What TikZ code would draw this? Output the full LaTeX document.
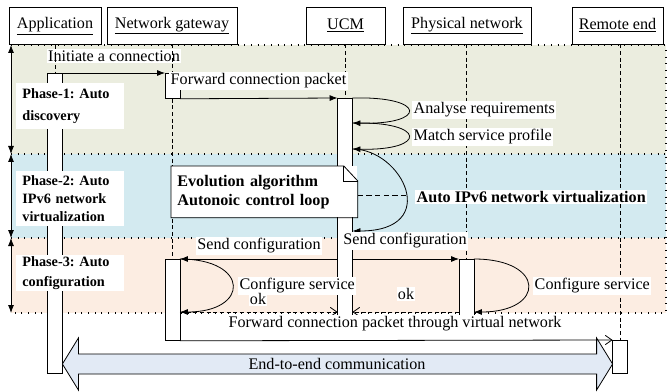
\documentclass[tikz,border=0pt]{standalone}
\usepackage{fontspec}
\setmainfont{Liberation Serif}
\usetikzlibrary{arrows.meta}
\definecolor{phA}{HTML}{EBEDDF}
\definecolor{phB}{HTML}{D3EAF0}
\definecolor{phC}{HTML}{FCEDE2}
\definecolor{bigarr}{HTML}{E2EAF5}
\frenchspacing
\begin{document}
\begin{tikzpicture}[x=0.75pt,y=-0.75pt, line width=0.6pt,
  font=\fontsize{12.1}{14}\selectfont,
  hdr/.style={draw, fill=white, minimum height=27.75pt, inner sep=0pt},
  bar/.style={draw, fill=white, minimum width=10.5pt, inner sep=0pt, anchor=north},
  life/.style={dash pattern=on 3pt off 2pt, line width=0.5pt},
  phaseline/.style={dash pattern=on 0.8pt off 4.2pt, line width=0.9pt},
  msg/.style={-{Latex[length=6pt,width=4.5pt]}},
  ret/.style={dash pattern=on 3pt off 2pt, -{Straight Barb[length=5pt,width=7pt]}},
  openarr/.style={-{Straight Barb[length=5pt,width=7pt]}},
  lbl/.style={fill=white, inner sep=1pt},
  bflbl/.style={fill=white, inner sep=1pt, font=\bfseries\fontsize{12.1}{14}\selectfont},
  plbl/.style={fill=white, inner xsep=4.5pt, inner ysep=0pt, anchor=north west, text width=72pt, align=left},
  darr/.style={{Latex[length=6pt,width=4.5pt]}-{Latex[length=6pt,width=4.5pt]}, line width=0.6pt}
  ]
\useasboundingbox (0,0) rectangle (667,392);

% phase regions
\fill[phA] (11,45) rectangle (666,154);
\fill[phB] (11,154) rectangle (666,238);
\fill[phC] (11,238) rectangle (666,313);
\draw[phaseline] (11,45) -- (666,45) -- (666,313) -- (11,313);
\draw[phaseline] (11,154) -- (666,154);
\draw[phaseline] (11,238) -- (666,238);
\coordinate (ph0) at (11,45);
\coordinate (ph1) at (11,154);
\coordinate (ph2) at (11,238);
\coordinate (ph3) at (11,313);
\draw[darr] (ph0) -- (ph1);
\draw[darr] (ph1) -- (ph2);
\draw[darr] (ph2) -- (ph3);

\node[lbl] (linit) at (114,56) {Initiate a connection};

% headers
\node[hdr, minimum width=69pt] (happ) at (55,26) {\underline{Application}};
\node[hdr, minimum width=97.5pt] (hng) at (172,25.5) {\underline{Network gateway}};
\node[hdr, minimum width=59.25pt] (hucm) at (345.5,25.5) {\underline{UCM}};
\node[hdr, minimum width=96pt] (hpn) at (467,25.5) {\underline{Physical network}};
\node[hdr, minimum width=68.25pt] (hre) at (617.5,25.5) {\underline{Remote end}};

% bars (positions only, drawn later)
\path node[bar, minimum height=225pt, draw=none, fill=none] (bapp) at (55,73) {}
      node[bar, minimum height=18.75pt, draw=none, fill=none] (bng1) at (172.5,73) {}
      node[bar, minimum height=60.75pt, draw=none, fill=none] (bng2) at (172.5,259) {}
      node[bar, minimum height=162.75pt, draw=none, fill=none] (bucm) at (345,98) {}
      node[bar, minimum height=42pt, draw=none, fill=none] (bpn) at (466.5,259) {}
      node[bar, minimum height=24.75pt, draw=none, fill=none] (bre) at (620,340) {};

% lifelines
\draw[life] (happ.south -| bapp.north) -- (bapp.north);
\draw[life] (hng.south -| bng1.north) -- (bng1.north);
\draw[life] (bng1.south) -- (bng2.north);
\draw[life] (hucm.south -| bucm.north) -- (bucm.north);
\draw[life] (hpn.south -| bpn.north) -- (bpn.north);
\draw[life] (hre.south -| bre.north) -- (bre.north);

% bars drawn
\draw[fill=white] (bapp.north west) rectangle (bapp.south east);
\draw[fill=white] (bng1.north west) rectangle (bng1.south east);
\draw[fill=white] (bng2.north west) rectangle (bng2.south east);
\draw[fill=white] (bucm.north west) rectangle (bucm.south east);
\draw[fill=white] (bpn.north west) rectangle (bpn.south east);
\draw[fill=white] (bre.north west) rectangle (bre.south east);

% messages
\draw[msg] (bapp.north east) -- (bng1.north west);
\draw[msg] (bng1.south east) -- (bucm.north west);

\coordinate (u1) at (bucm.east |- 0,123);
\coordinate (u2) at (bucm.east |- 0,149);
\coordinate (u3) at (bucm.east |- 0,231);
\draw[msg] (bucm.north east) .. controls +(75,-2) and +(75,2) .. (u1);
\draw[msg] (u1) .. controls +(75,-2) and +(75,2) .. (u2);
\draw[msg] (u2) .. controls +(50,0) and +(90,0) .. (u3);

\draw[msg] (bucm.west |- bng2.north) -- (bng2.north east);
\draw[msg] (bucm.east |- bpn.north) -- (bpn.north west);

\coordinate (n1) at (bng2.east |- 0,312);
\coordinate (p1) at (bpn.east |- 0,312);
\draw[msg] (bng2.north east) .. controls +(70,0) and +(70,0) .. (n1);
\draw[msg] (bpn.north east) .. controls +(72,0) and +(72,0) .. (p1);
\draw[ret] (n1) -- (bucm.west |- n1);
\draw[ret] (bpn.west |- p1) -- (bucm.east |- p1);
\draw[openarr] (bng2.south east) -- (bre.north west);

% note
\node[fill=white, inner xsep=4.5pt, inner ysep=0pt, anchor=north west, text width=130.5pt, align=left, minimum height=38.25pt, font=\bfseries\fontsize{12.1}{14.25}\selectfont] (note) at (171,166) {Evolution algorithm\\Autonoic control loop};
\draw (note.north west) -- ([xshift=-10.5pt]note.north east) -- ([yshift=-11.25pt]note.north east) -- (note.south east) -- (note.south west) -- cycle;
\draw ([xshift=-10.5pt]note.north east) |- ([yshift=-11.25pt]note.north east);
\coordinate (vx) at (407,195);
\draw[dash pattern=on 4pt off 2.5pt] (note.east |- vx) -- (vx);

% labels
\node[lbl, anchor=west] (lfwd) at (169,81) {Forward connection packet};
\node[lbl, anchor=west] (lana) at (412,110) {Analyse requirements};
\node[lbl, anchor=west] (lmatch) at (412,137) {Match service profile};
\node[bflbl, anchor=west] (lvirt) at (415,197) {Auto IPv6 network virtualization};
\node[lbl] (lsc1) at (259,246) {Send configuration};
\node[lbl] (lsc2) at (405,241) {Send configuration};
\node[lbl, anchor=west] (lcs1) at (238,286) {Configure service};
\node[lbl] (lok1) at (258,299) {ok};
\node[lbl] (lok2) at (406,294) {ok};
\node[lbl, anchor=west] (lcs2) at (533,286) {Configure service};
\node[lbl] (lfwd2) at (395,324) {Forward connection packet through virtual network};

% phase labels
\node[plbl, minimum height=34.5pt, font=\bfseries\fontsize{10.7}{16.5}\selectfont] (p1lbl) at (16,83) {Phase-1: Auto\\discovery};
\node[plbl, minimum height=41.25pt, font=\bfseries\fontsize{10.7}{13.5}\selectfont] (p2lbl) at (16,171) {Phase-2: Auto\\IPv6 network\\virtualization};
\node[plbl, minimum height=27pt, font=\bfseries\fontsize{10.7}{15}\selectfont] (p3lbl) at (16,255) {Phase-3: Auto\\configuration};

% end-to-end arrow
\coordinate (eL) at (bapp.east |- 0,364);
\coordinate (eR) at (bre.west |- 0,364);
\draw[fill=bigarr] (eL) -- ++(16,-26) -- ++(0,16) -- ([xshift=-12pt,yshift=7.5pt]eR) -- ++(0,-16) -- (eR) -- ++(-16,26) -- ++(0,-16) -- ([xshift=12pt,yshift=-7.5pt]eL) -- ++(0,16) -- cycle;
\node (e2e) at (337,364) {End-to-end communication};
\end{tikzpicture}
\end{document}
